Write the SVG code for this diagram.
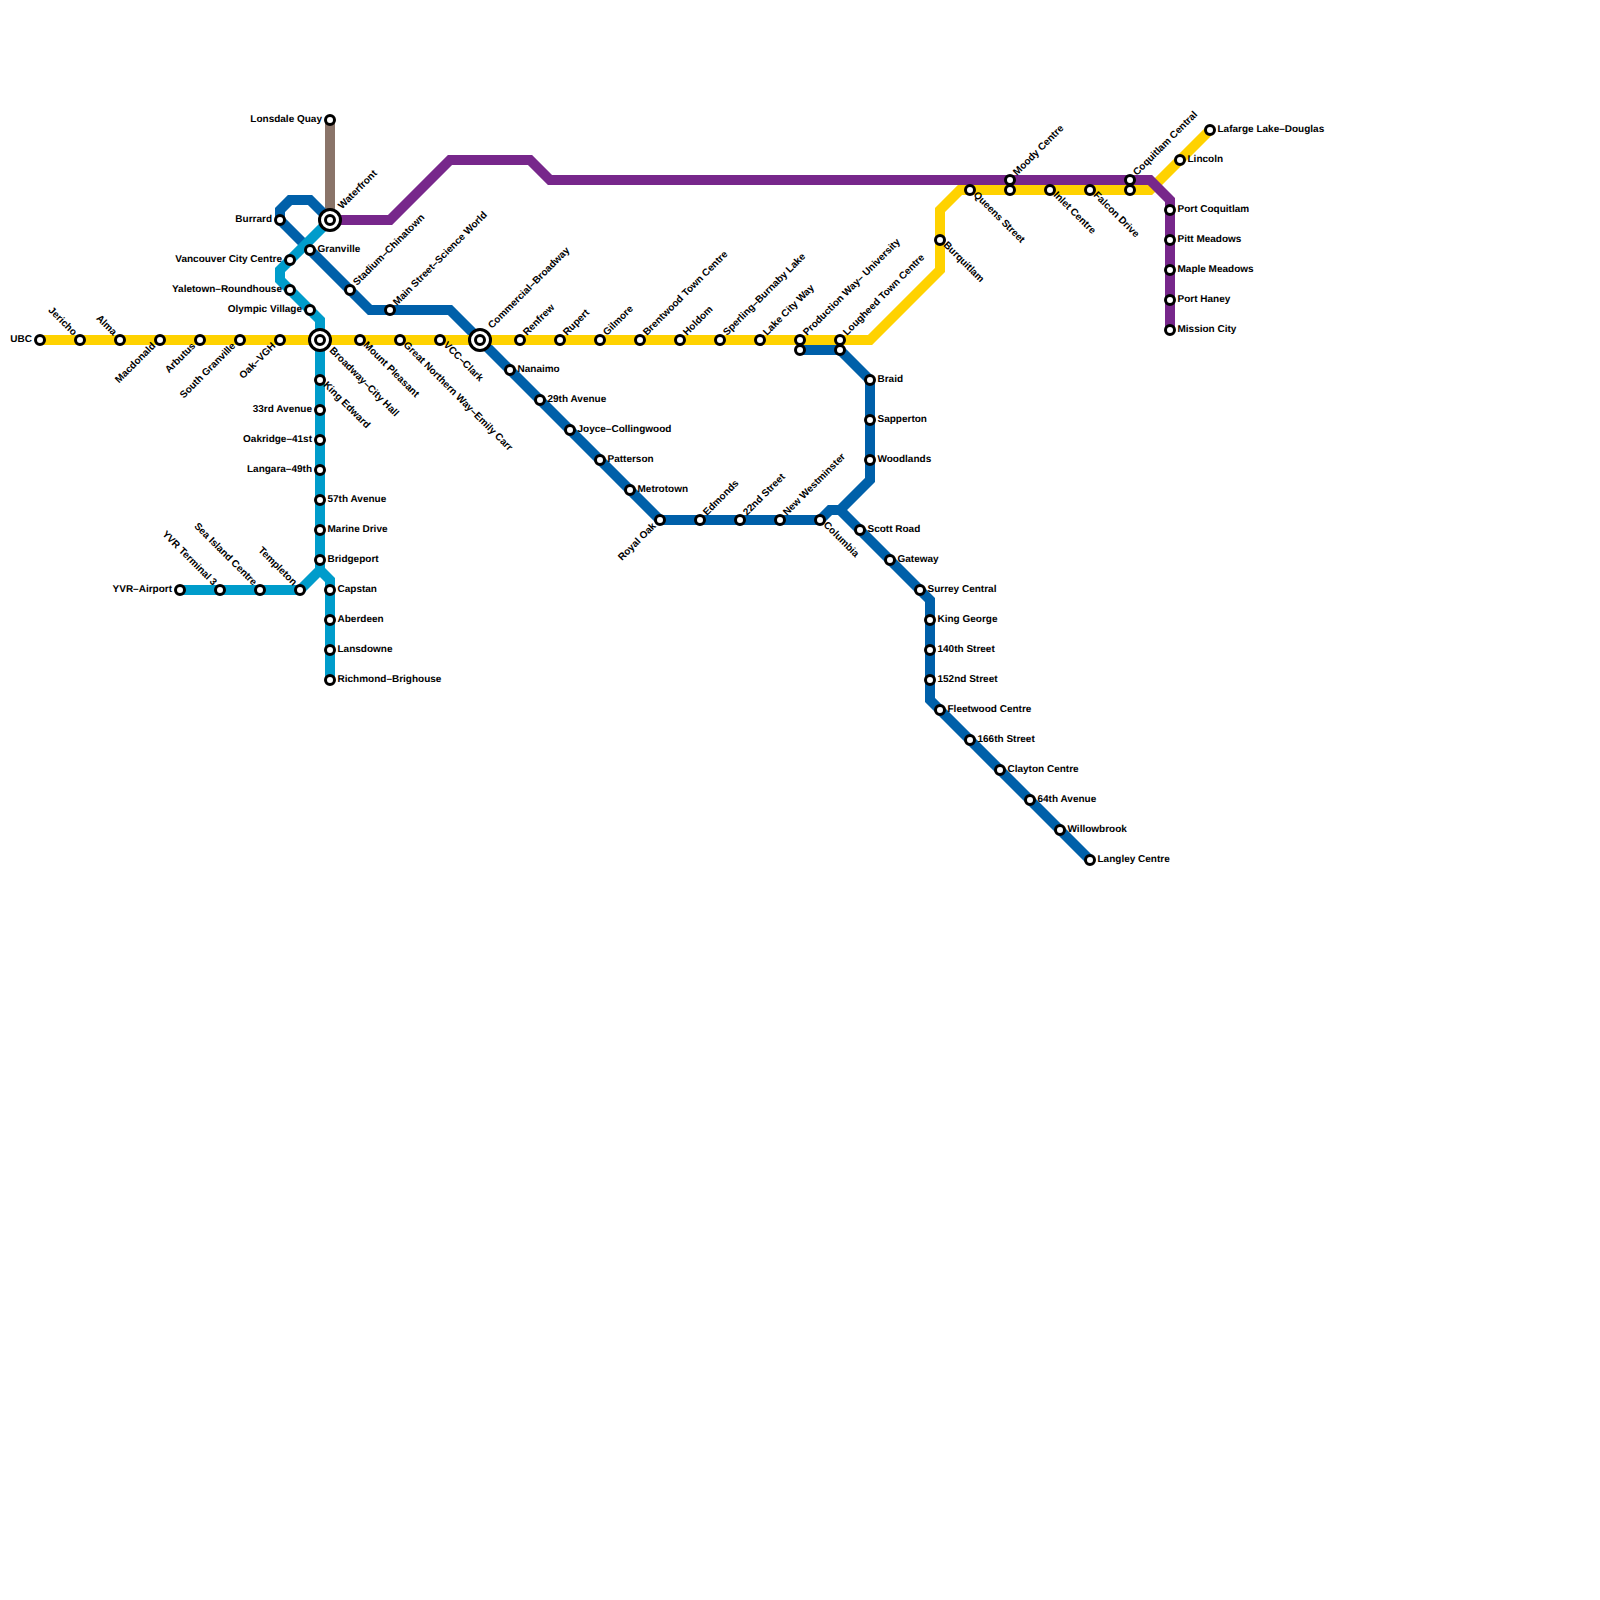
<svg xmlns="http://www.w3.org/2000/svg" width="1600" height="1600" viewBox="0 0 1600 1600">
<style>
.l{fill:none;stroke-width:10;stroke-linejoin:miter;stroke-linecap:butt}
.s{fill:#fff;stroke:#000;stroke-width:3}
.o{fill:#fff;stroke:#000;stroke-width:3}
text{font-family:"Liberation Sans",Arial,sans-serif;font-size:10px;font-weight:700;fill:#000;text-rendering:geometricPrecision}
.e{text-anchor:end}
</style>
<rect width="1600" height="1600" fill="#fff"/>
<g id="connectors">
<path class="l" stroke="#8a7469" d="M330 120V220"/>
<path class="l" stroke="#0060a9" d="M330 220L310 200H290L280 210V220L370 310H450L660 520H820L830 510H840L930 600V700L1090 860"/>
<path class="l" stroke="#0060a9" d="M800 350H840L870 380V480L840 510"/>
<path class="l" stroke="#009ccb" d="M330 220L280 270V280L320 320V570L300 590H180"/>
<path class="l" stroke="#009ccb" d="M320 570L330 580V680"/>
<path class="l" stroke="#ffd200" d="M40 340H870L940 270V210L960 190H1150L1210 130"/>
<path class="l" stroke="#77278b" d="M330 220H390L450 160H530L550 180H1150L1170 200V330"/>
</g>
<g id="stations">
<g id="n-ubc"><circle class="s" cx="40" cy="340" r="4.5"/><text class="e" x="32" y="342">UBC</text></g>
<g id="n-jericho"><circle class="s" cx="80" cy="340" r="4.5"/><text class="e" transform="translate(73,336) rotate(45)">Jericho</text></g>
<g id="n-alma"><circle class="s" cx="120" cy="340" r="4.5"/><text class="e" transform="translate(113,336) rotate(45)">Alma</text></g>
<g id="n-macdonald"><circle class="s" cx="160" cy="340" r="4.5"/><text class="e" transform="translate(156,346.5) rotate(-45)">Macdonald</text></g>
<g id="n-arbutus"><circle class="s" cx="200" cy="340" r="4.5"/><text class="e" transform="translate(196,346.5) rotate(-45)">Arbutus</text></g>
<g id="n-southgranville"><circle class="s" cx="240" cy="340" r="4.5"/><text class="e" transform="translate(236,346.5) rotate(-45)">South Granville</text></g>
<g id="n-oakvgh"><circle class="s" cx="280" cy="340" r="4.5"/><text class="e" transform="translate(276,346.5) rotate(-45)">Oak–VGH</text></g>
<g id="n-broadway"><circle class="o" cx="320" cy="340" r="10.5"/><circle class="s" cx="320" cy="340" r="4.5"/><text transform="translate(329,351) rotate(45)">Broadway–City Hall</text></g>
<g id="n-mountpleasant"><circle class="s" cx="360" cy="340" r="4.5"/><text transform="translate(363,345.5) rotate(45)">Mount Pleasant</text></g>
<g id="n-greatnorthern"><circle class="s" cx="400" cy="340" r="4.5"/><text transform="translate(403,345.5) rotate(45)">Great Northern Way–Emily Carr</text></g>
<g id="n-vcc"><circle class="s" cx="440" cy="340" r="4.5"/><text transform="translate(443,345.5) rotate(45)">VCC–Clark</text></g>
<g id="n-commercial"><circle class="o" cx="480" cy="340" r="10.5"/><circle class="s" cx="480" cy="340" r="4.5"/><text transform="translate(492,329) rotate(-45)">Commercial–Broadway</text></g>
<g id="n-renfrew"><circle class="s" cx="520" cy="340" r="4.5"/><text transform="translate(527,336) rotate(-45)">Renfrew</text></g>
<g id="n-rupert"><circle class="s" cx="560" cy="340" r="4.5"/><text transform="translate(567,336) rotate(-45)">Rupert</text></g>
<g id="n-gilmore"><circle class="s" cx="600" cy="340" r="4.5"/><text transform="translate(607,336) rotate(-45)">Gilmore</text></g>
<g id="n-brentwood"><circle class="s" cx="640" cy="340" r="4.5"/><text transform="translate(647,336) rotate(-45)">Brentwood Town Centre</text></g>
<g id="n-holdom"><circle class="s" cx="680" cy="340" r="4.5"/><text transform="translate(687,336) rotate(-45)">Holdom</text></g>
<g id="n-sperling"><circle class="s" cx="720" cy="340" r="4.5"/><text transform="translate(727,336) rotate(-45)">Sperling–Burnaby Lake</text></g>
<g id="n-lakecity"><circle class="s" cx="760" cy="340" r="4.5"/><text transform="translate(767,336) rotate(-45)">Lake City Way</text></g>
<g id="n-production"><circle class="s" cx="800" cy="340" r="4.5"/><circle class="s" cx="800" cy="350" r="4.5"/><text transform="translate(807,336) rotate(-45)">Production Way– University</text></g>
<g id="n-lougheed"><circle class="s" cx="840" cy="340" r="4.5"/><circle class="s" cx="840" cy="350" r="4.5"/><text transform="translate(847,336) rotate(-45)">Lougheed Town Centre</text></g>
<g id="n-burquitlam"><circle class="s" cx="940" cy="240" r="4.5"/><text transform="translate(943,245.5) rotate(45)">Burquitlam</text></g>
<g id="n-queens"><circle class="s" cx="970" cy="190" r="4.5"/><text transform="translate(973,195.5) rotate(45)">Queens Street</text></g>
<g id="n-moody"><circle class="s" cx="1010" cy="180" r="4.5"/><circle class="s" cx="1010" cy="190" r="4.5"/><text transform="translate(1017,176) rotate(-45)">Moody Centre</text></g>
<g id="n-inlet"><circle class="s" cx="1050" cy="190" r="4.5"/><text transform="translate(1053,195.5) rotate(45)">Inlet Centre</text></g>
<g id="n-falcon"><circle class="s" cx="1090" cy="190" r="4.5"/><text transform="translate(1093,195.5) rotate(45)">Falcon Drive</text></g>
<g id="n-coquitlam"><circle class="s" cx="1130" cy="180" r="4.5"/><circle class="s" cx="1130" cy="190" r="4.5"/><text transform="translate(1137,176) rotate(-45)">Coquitlam Central</text></g>
<g id="n-lincoln"><circle class="s" cx="1180" cy="160" r="4.5"/><text x="1187.5" y="162">Lincoln</text></g>
<g id="n-lafarge"><circle class="s" cx="1210" cy="130" r="4.5"/><text x="1217.5" y="132">Lafarge Lake–Douglas</text></g>
<g id="n-portcoquitlam"><circle class="s" cx="1170" cy="210" r="4.5"/><text x="1177.5" y="212">Port Coquitlam</text></g>
<g id="n-pitt"><circle class="s" cx="1170" cy="240" r="4.5"/><text x="1177.5" y="242">Pitt Meadows</text></g>
<g id="n-maple"><circle class="s" cx="1170" cy="270" r="4.5"/><text x="1177.5" y="272">Maple Meadows</text></g>
<g id="n-haney"><circle class="s" cx="1170" cy="300" r="4.5"/><text x="1177.5" y="302">Port Haney</text></g>
<g id="n-mission"><circle class="s" cx="1170" cy="330" r="4.5"/><text x="1177.5" y="332">Mission City</text></g>
<g id="n-lonsdale"><circle class="s" cx="330" cy="120" r="4.5"/><text class="e" x="322" y="122">Lonsdale Quay</text></g>
<g id="n-waterfront"><circle class="o" cx="330" cy="220" r="10.5"/><circle class="s" cx="330" cy="220" r="4.5"/><text transform="translate(342,209.500) rotate(-45)">Waterfront</text></g>
<g id="n-burrard"><circle class="s" cx="280" cy="220" r="4.5"/><text class="e" x="272" y="222">Burrard</text></g>
<g id="n-granville"><circle class="s" cx="310" cy="250" r="4.5"/><text x="317.5" y="252">Granville</text></g>
<g id="n-stadium"><circle class="s" cx="350" cy="290" r="4.5"/><text transform="translate(357,286) rotate(-45)">Stadium–Chinatown</text></g>
<g id="n-main"><circle class="s" cx="390" cy="310" r="4.5"/><text transform="translate(397,306) rotate(-45)">Main Street–Science World</text></g>
<g id="n-vancity"><circle class="s" cx="290" cy="260" r="4.5"/><text class="e" x="282" y="262">Vancouver City Centre</text></g>
<g id="n-yaletown"><circle class="s" cx="290" cy="290" r="4.5"/><text class="e" x="282" y="292">Yaletown–Roundhouse</text></g>
<g id="n-olympic"><circle class="s" cx="310" cy="310" r="4.5"/><text class="e" x="302" y="312">Olympic Village</text></g>
<g id="n-kingedward"><circle class="s" cx="320" cy="380" r="4.5"/><text transform="translate(323,385.500) rotate(45)">King Edward</text></g>
<g id="n-33rd"><circle class="s" cx="320" cy="410" r="4.5"/><text class="e" x="312" y="412">33rd Avenue</text></g>
<g id="n-oakridge"><circle class="s" cx="320" cy="440" r="4.5"/><text class="e" x="312" y="442">Oakridge–41st</text></g>
<g id="n-langara"><circle class="s" cx="320" cy="470" r="4.5"/><text class="e" x="312" y="472">Langara–49th</text></g>
<g id="n-57th"><circle class="s" cx="320" cy="500" r="4.5"/><text x="327.5" y="502">57th Avenue</text></g>
<g id="n-marine"><circle class="s" cx="320" cy="530" r="4.5"/><text x="327.5" y="532">Marine Drive</text></g>
<g id="n-bridgeport"><circle class="s" cx="320" cy="560" r="4.5"/><text x="327.5" y="562">Bridgeport</text></g>
<g id="n-capstan"><circle class="s" cx="330" cy="590" r="4.5"/><text x="337.5" y="592">Capstan</text></g>
<g id="n-aberdeen"><circle class="s" cx="330" cy="620" r="4.5"/><text x="337.5" y="622">Aberdeen</text></g>
<g id="n-lansdowne"><circle class="s" cx="330" cy="650" r="4.5"/><text x="337.5" y="652">Lansdowne</text></g>
<g id="n-richmond"><circle class="s" cx="330" cy="680" r="4.5"/><text x="337.5" y="682">Richmond–Brighouse</text></g>
<g id="n-yvr"><circle class="s" cx="180" cy="590" r="4.5"/><text class="e" x="172" y="592">YVR–Airport</text></g>
<g id="n-t3"><circle class="s" cx="220" cy="590" r="4.5"/><text class="e" transform="translate(213,586) rotate(45)">YVR Terminal 3</text></g>
<g id="n-seaisland"><circle class="s" cx="260" cy="590" r="4.5"/><text class="e" transform="translate(253,586) rotate(45)">Sea Island Centre</text></g>
<g id="n-templeton"><circle class="s" cx="300" cy="590" r="4.5"/><text class="e" transform="translate(293,586) rotate(45)">Templeton</text></g>
<g id="n-nanaimo"><circle class="s" cx="510" cy="370" r="4.5"/><text x="517.5" y="372">Nanaimo</text></g>
<g id="n-29th"><circle class="s" cx="540" cy="400" r="4.5"/><text x="547.5" y="402">29th Avenue</text></g>
<g id="n-joyce"><circle class="s" cx="570" cy="430" r="4.5"/><text x="577.5" y="432">Joyce–Collingwood</text></g>
<g id="n-patterson"><circle class="s" cx="600" cy="460" r="4.5"/><text x="607.5" y="462">Patterson</text></g>
<g id="n-metrotown"><circle class="s" cx="630" cy="490" r="4.5"/><text x="637.5" y="492">Metrotown</text></g>
<g id="n-royaloak"><circle class="s" cx="660" cy="520" r="4.5"/><text class="e" transform="translate(656.5,526.5) rotate(-45)">Royal Oak</text></g>
<g id="n-edmonds"><circle class="s" cx="700" cy="520" r="4.5"/><text transform="translate(707,516) rotate(-45)">Edmonds</text></g>
<g id="n-22nd"><circle class="s" cx="740" cy="520" r="4.5"/><text transform="translate(747,516) rotate(-45)">22nd Street</text></g>
<g id="n-newwest"><circle class="s" cx="780" cy="520" r="4.5"/><text transform="translate(787,516) rotate(-45)">New Westminster</text></g>
<g id="n-columbia"><circle class="s" cx="820" cy="520" r="4.5"/><text transform="translate(823,525.500) rotate(45)">Columbia</text></g>
<g id="n-braid"><circle class="s" cx="870" cy="380" r="4.5"/><text x="877.5" y="382">Braid</text></g>
<g id="n-sapperton"><circle class="s" cx="870" cy="420" r="4.5"/><text x="877.5" y="422">Sapperton</text></g>
<g id="n-woodlands"><circle class="s" cx="870" cy="460" r="4.5"/><text x="877.5" y="462">Woodlands</text></g>
<g id="n-scott"><circle class="s" cx="860" cy="530" r="4.5"/><text x="867.5" y="532">Scott Road</text></g>
<g id="n-gateway"><circle class="s" cx="890" cy="560" r="4.5"/><text x="897.5" y="562">Gateway</text></g>
<g id="n-surrey"><circle class="s" cx="920" cy="590" r="4.5"/><text x="927.5" y="592">Surrey Central</text></g>
<g id="n-kinggeorge"><circle class="s" cx="930" cy="620" r="4.5"/><text x="937.5" y="622">King George</text></g>
<g id="n-140"><circle class="s" cx="930" cy="650" r="4.5"/><text x="937.5" y="652">140th Street</text></g>
<g id="n-152"><circle class="s" cx="930" cy="680" r="4.5"/><text x="937.5" y="682">152nd Street</text></g>
<g id="n-fleetwood"><circle class="s" cx="940" cy="710" r="4.5"/><text x="947.5" y="712">Fleetwood Centre</text></g>
<g id="n-166"><circle class="s" cx="970" cy="740" r="4.5"/><text x="977.5" y="742">166th Street</text></g>
<g id="n-clayton"><circle class="s" cx="1000" cy="770" r="4.5"/><text x="1007.5" y="772">Clayton Centre</text></g>
<g id="n-64"><circle class="s" cx="1030" cy="800" r="4.5"/><text x="1037.5" y="802">64th Avenue</text></g>
<g id="n-willowbrook"><circle class="s" cx="1060" cy="830" r="4.5"/><text x="1067.5" y="832">Willowbrook</text></g>
<g id="n-langley"><circle class="s" cx="1090" cy="860" r="4.5"/><text x="1097.5" y="862">Langley Centre</text></g>
</g>
</svg>
